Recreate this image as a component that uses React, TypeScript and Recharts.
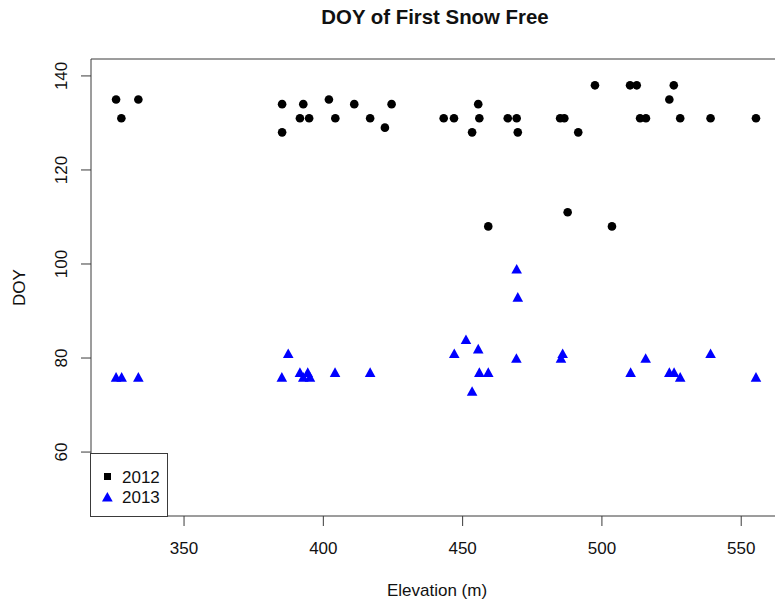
import React from 'react';
import {
  ScatterChart,
  Scatter,
  XAxis,
  YAxis,
  Label,
  Legend,
  ReferenceArea,
} from 'recharts';

// elevation (m) and day-of-year
const elev2012 = [
  325.6, 327.5, 333.6, 385.2, 385.2, 392.8, 391.6, 394.9, 402, 404.3, 411.1, 416.8, 422.1,
  424.5, 443.2, 446.9, 455.6, 456, 453.4, 466.2, 469.4, 469.8, 459.2, 485, 486.5, 487.7,
  491.5, 497.5, 503.6, 510.1, 512.5, 513.7, 515.8, 524.2, 525.8, 528.1, 539, 555.3,
];
const doy2012 = [
  135, 131, 135, 134, 128, 134, 131, 131, 135, 131, 134, 131, 129,
  134, 131, 131, 134, 131, 128, 131, 131, 128, 108, 131, 131, 111,
  128, 138, 108, 138, 138, 131, 131, 135, 138, 131, 131, 131,
];

const elev2013 = [
  325.6, 327.6, 333.6, 385.1, 387.4, 391.6, 394.4, 392.8, 395.2, 404.2, 416.8, 447, 451.2,
  455.6, 456, 459.2, 453.4, 469.4, 469.8, 469.3, 485.9, 485.3, 510.3, 515.7, 524.2, 525.9,
  528.1, 539, 555.3,
];
const doy2013 = [
  76, 76, 76, 76, 81, 77, 77, 76, 76, 77, 77, 81, 84,
  82, 77, 77, 73, 99, 93, 80, 81, 80, 77, 80, 77, 77,
  76, 81, 76,
];

const xTicks = [350, 400, 450, 500, 550];
const yTicks = [60, 80, 100, 120, 140];
const xDomain = [316.6, 565];
const yDomain = [46.4, 143.6];

const data2012 = elev2012.map((e, i) => ({ elev: e, doy: doy2012[i] }));
const data2013 = elev2013.map((e, i) => ({ elev: e, doy: doy2013[i] }));

const FONT = '"Liberation Sans", Arial, Helvetica, sans-serif';
const INK = '#3a3a3a';

const Dot = (props: any) => <circle cx={props.cx} cy={props.cy} r={4.3} fill="#000" />;

const Tri = (props: any) => {
  const { cx, cy } = props;
  const w = 5.3;
  const h = 4.8;
  return <polygon points={`${cx - w},${cy + h} ${cx + w},${cy + h} ${cx},${cy - h}`} fill="#0000ff" />;
};

const YTick = ({ x, y, payload }: any) => (
  <text
    x={x}
    y={y}
    transform={`rotate(-90 ${x} ${y})`}
    textAnchor="middle"
    fontSize={17}
    fontFamily={FONT}
    fill="#111"
  >
    {payload.value}
  </text>
);

const YTitle = ({ viewBox }: any) => {
  const cy = viewBox.y + viewBox.height / 2;
  return (
    <text x={25} y={cy} transform={`rotate(-90 25 ${cy})`} textAnchor="middle" fontSize={17} fontFamily={FONT} fill="#111">
      DOY
    </text>
  );
};

const LegendBox = () => (
  <div style={{ position: 'relative', width: '100%', height: '100%', fontFamily: FONT, fontSize: 17, lineHeight: '17px', color: '#111' }}>
    <div style={{ position: 'absolute', left: 12.7, top: 19.3, width: 7, height: 7, background: '#000' }} />
    <div style={{ position: 'absolute', left: 31, top: 15 }}>2012</div>
    <svg style={{ position: 'absolute', left: 10.5, top: 37.5 }} width={11} height={10}>
      <polygon points="0,9.5 10.7,9.5 5.35,0" fill="#0000ff" />
    </svg>
    <div style={{ position: 'absolute', left: 31, top: 35.3 }}>2013</div>
  </div>
);

export default function App() {
  return (
    <div style={{ position: 'absolute', left: 0, top: 0, width: 775, height: 604, overflow: 'hidden', background: '#fff' }}>
      <div
        style={{
          position: 'absolute',
          left: 0,
          top: 7,
          width: 870,
          textAlign: 'center',
          fontFamily: FONT,
          fontWeight: 'bold',
          fontSize: 20.4,
          lineHeight: '20px',
          color: '#111',
        }}
      >
        DOY of First Snow Free
      </div>
      <ScatterChart width={800} height={604} margin={{ top: 59, right: 17, bottom: 0, left: 0 }}>
        <XAxis
          type="number"
          dataKey="elev"
          domain={xDomain}
          ticks={xTicks}
          allowDataOverflow
          height={88}
          axisLine={false}
          tickLine={{ stroke: INK }}
          tickSize={10}
          tickMargin={16}
          tick={{ fontSize: 17, fontFamily: FONT, fill: '#111' }}
        >
          <Label value="Elevation (m)" position="insideBottom" offset={8} fontSize={17} fontFamily={FONT} fill="#111" />
        </XAxis>
        <YAxis
          type="number"
          dataKey="doy"
          domain={yDomain}
          ticks={yTicks}
          allowDataOverflow
          width={91}
          axisLine={false}
          tickLine={{ stroke: INK }}
          tickSize={10}
          tickMargin={14}
          tick={<YTick />}
        >
          <Label content={<YTitle />} />
        </YAxis>
        <ReferenceArea
          x1={xDomain[0]}
          x2={xDomain[1]}
          y1={yDomain[0]}
          y2={yDomain[1]}
          fill="none"
          stroke={INK}
          strokeWidth={1}
          ifOverflow="visible"
        />
        <Legend
          layout="vertical"
          align="center"
          verticalAlign="middle"
          content={<LegendBox />}
          wrapperStyle={{
            position: 'absolute',
            left: 90,
            top: 453,
            width: 78,
            height: 64,
            border: `1px solid ${INK}`,
            boxSizing: 'border-box',
            background: '#fff',
            margin: 0,
            bottom: 'auto',
            right: 'auto',
          }}
        />
        <Scatter name="2012" data={data2012} shape={<Dot />} isAnimationActive={false} />
        <Scatter name="2013" data={data2013} shape={<Tri />} isAnimationActive={false} />
      </ScatterChart>
    </div>
  );
}
